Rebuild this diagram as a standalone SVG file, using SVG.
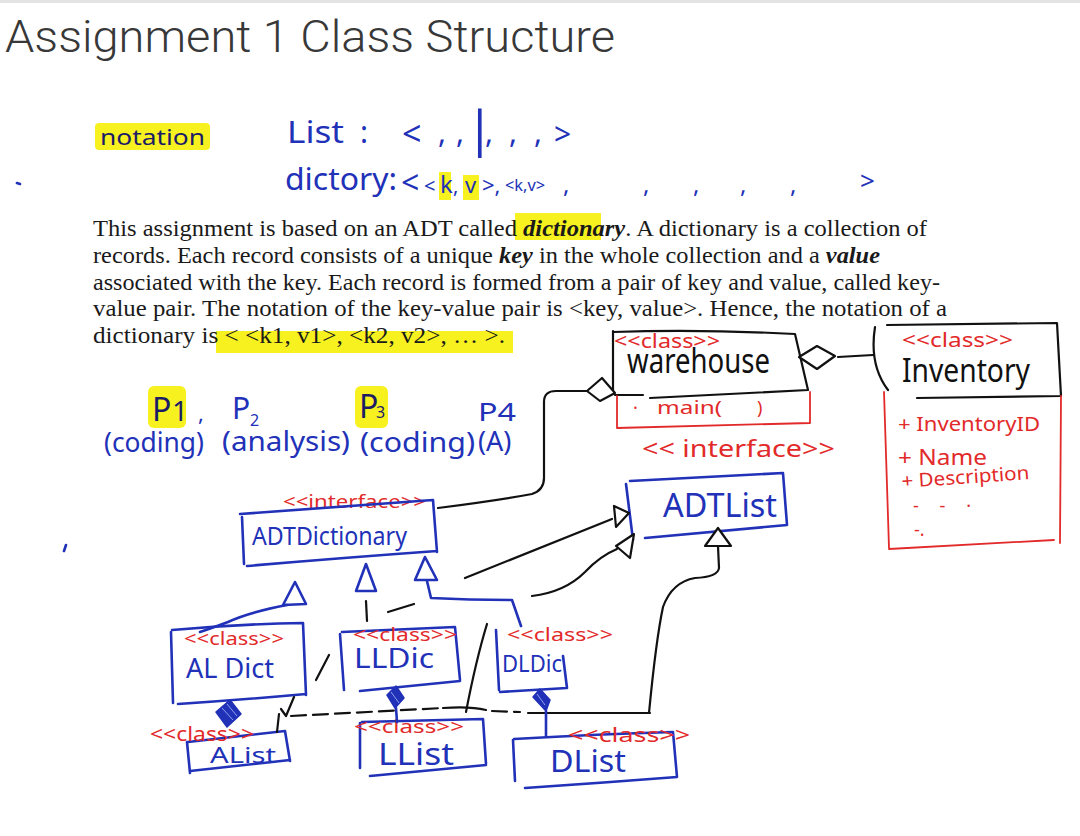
<svg xmlns="http://www.w3.org/2000/svg" width="1080" height="836" viewBox="0 0 1080 836">
<style>
.hw{font-family:"Noto Sans","DejaVu Sans",sans-serif}
.tb{fill:#2131b8}
.tn{fill:#1c1c66}
.tr{fill:#e22a2a}
.tk{fill:#111}
.hl{fill:#f7f21f}
.sb{stroke:#2131b8;fill:none;stroke-width:2.6;stroke-linecap:round;stroke-linejoin:round}
.sk{stroke:#111;fill:none;stroke-width:2.2;stroke-linecap:round;stroke-linejoin:round}
.sr{stroke:#e22a2a;fill:none;stroke-width:1.8;stroke-linecap:round;stroke-linejoin:round}
.tri{fill:#fff}
.comp{fill:#2131b8;stroke:#2131b8;stroke-width:1.5;stroke-linejoin:round}
.hatch{stroke:#8fa0f0;stroke-width:1}
.para{font-family:"Liberation Serif",serif;font-size:22.5px;fill:#1a1a1a}
.dash{stroke-dasharray:15 7}
</style>
<rect x="0" y="0" width="1080" height="3" fill="#e4e4e4"/>
<text x="5" y="52" font-family="'Roboto Light', Roboto, sans-serif" font-weight="300" font-size="44" fill="#383838" textLength="610" lengthAdjust="spacingAndGlyphs">Assignment 1 Class Structure</text>

<g id="notation">
<rect class="hl" x="95" y="123" width="115" height="27" rx="4"/>
<text class="hw tn" x="100" y="145" font-size="22" textLength="105" lengthAdjust="spacingAndGlyphs">notation</text>
<g class="hw tb" font-size="30">
<text x="287" y="143" textLength="57" lengthAdjust="spacingAndGlyphs">List</text>
<text x="360" y="143">:</text>
<text x="402" y="146" font-size="34">&lt;</text>
<text x="438" y="143">,</text>
<text x="456" y="143">,</text>
<text x="466" y="146" font-size="50">|</text>
<text x="485" y="143">,</text>
<text x="509" y="143">,</text>
<text x="534" y="143">,</text>
<text x="554" y="145">&gt;</text>
</g>
<rect class="hl" x="439" y="172" width="12" height="28"/>
<rect class="hl" x="463" y="175" width="16" height="25"/>
<g class="hw tb" font-size="30">
<text x="285" y="190" textLength="112" lengthAdjust="spacingAndGlyphs">dictory:</text>
<text x="401" y="194" font-size="32">&lt;</text>
<text x="424" y="193" font-size="20">&lt;</text>
<text x="440" y="193" font-size="24">k</text>
<text x="453" y="193" font-size="20">,</text>
<text x="465" y="193" font-size="22">v</text>
<text x="482" y="193" font-size="22">&gt;,</text>
<text x="505" y="191" font-size="16" textLength="40" lengthAdjust="spacingAndGlyphs">&lt;k,v&gt;</text>
<text x="563" y="193" font-size="24">,</text>
<text x="643" y="193" font-size="24">,</text>
<text x="693" y="193" font-size="24">,</text>
<text x="740" y="193" font-size="24">,</text>
<text x="790" y="193" font-size="24">,</text>
<text x="860" y="190" font-size="26">&gt;</text>
</g>
</g>

<g id="paragraph">
<rect class="hl" x="515" y="213" width="86" height="27"/>
<rect class="hl" x="216" y="331" width="297" height="22"/>
<text class="para" x="93" y="236" textLength="834" lengthAdjust="spacingAndGlyphs">This assignment is based on an ADT called <tspan font-weight="bold" font-style="italic">dictionary</tspan>. A dictionary is a collection of</text>
<text class="para" x="93" y="263" textLength="787" lengthAdjust="spacingAndGlyphs">records. Each record consists of a unique <tspan font-weight="bold" font-style="italic">key</tspan> in the whole collection and a <tspan font-weight="bold" font-style="italic">value</tspan></text>
<text class="para" x="93" y="290" textLength="847" lengthAdjust="spacingAndGlyphs">associated with the key. Each record is formed from a pair of key and value, called key-</text>
<text class="para" x="93" y="316" textLength="854" lengthAdjust="spacingAndGlyphs">value pair. The notation of the key-value pair is &lt;key, value&gt;. Hence, the notation of a</text>
<text class="para" x="93" y="343" textLength="412" lengthAdjust="spacingAndGlyphs">dictionary is &lt; &lt;k1, v1&gt;, &lt;k2, v2&gt;, … &gt;.</text>
</g>

<g id="phases" class="hw">
<rect class="hl" x="148" y="386" width="38" height="42" rx="6"/>
<rect class="hl" x="355" y="386" width="33" height="42" rx="6"/>
<text class="tn" x="152" y="421" font-size="32">P</text>
<text class="tn" x="172" y="421" font-size="28">1</text>
<text class="tb" x="198" y="421" font-size="22">,</text>
<text class="tb" x="232" y="419" font-size="30">P</text>
<text class="tb" x="250" y="426" font-size="16">2</text>
<text class="tn" x="359" y="418" font-size="32">P</text>
<text class="tn" x="376" y="418" font-size="16">3</text>
<text class="tb" x="478" y="421" font-size="26" textLength="38" lengthAdjust="spacingAndGlyphs">P4</text>
<text class="tb" x="104" y="452" font-size="27" textLength="100" lengthAdjust="spacingAndGlyphs">(coding)</text>
<text class="tb" x="222" y="451" font-size="27" textLength="128" lengthAdjust="spacingAndGlyphs">(analysis)</text>
<text class="tb" x="360" y="452" font-size="27" textLength="115" lengthAdjust="spacingAndGlyphs">(coding)</text>
<text class="tb" x="478" y="451" font-size="27">(A)</text>
</g>

<g id="warehouse">
<path class="sk" d="M613,331 L613,394 M613,332 Q700,329 795,334 L808,390 M615,395 L643,395 M650,398 L808,390"/>
<path class="sr" d="M617,396 L617,428 L810,423 L810,392"/>
<text class="hw tr" x="614" y="348" font-size="19" textLength="106" lengthAdjust="spacingAndGlyphs">&lt;&lt;class&gt;&gt;</text>
<text class="hw tk" x="627" y="373" font-size="34" textLength="143" lengthAdjust="spacingAndGlyphs">warehouse</text>
<text class="hw tr" x="633" y="414" font-size="18">·</text>
<text class="hw tr" x="657" y="414" font-size="18" textLength="65" lengthAdjust="spacingAndGlyphs">main(</text>
<text class="hw tr" x="757" y="414" font-size="18">)</text>
</g>

<g id="inventory">
<path class="sk" d="M875,327 Q869,365 888,390 M887,325 L1057,323 L1061,396 M917,398 L1061,396"/>
<path class="sr" d="M884,392 L889,548 M889,549 L1054,540 M1061,396 L1060,543"/>
<text class="hw tr" x="902" y="347" font-size="20" textLength="111" lengthAdjust="spacingAndGlyphs">&lt;&lt;class&gt;&gt;</text>
<text class="hw tk" x="902" y="382" font-size="33" textLength="128" lengthAdjust="spacingAndGlyphs">Inventory</text>
<text class="hw tr" x="898" y="431" font-size="19" textLength="142" lengthAdjust="spacingAndGlyphs">+ InventoryID</text>
<text class="hw tr" x="898" y="465" font-size="22" textLength="89" lengthAdjust="spacingAndGlyphs">+ Name</text>
<text class="hw tr" x="902" y="488" font-size="19" textLength="128" lengthAdjust="spacingAndGlyphs" transform="rotate(-4 902 488)">+ Description</text>
<text class="hw tr" x="913" y="512" font-size="18" textLength="58" lengthAdjust="spacing">- -  ·</text>
<text class="hw tr" x="914" y="536" font-size="18">-.</text>
</g>

<g id="adtlist">
<text class="hw tr" x="642" y="457" font-size="24" textLength="193" lengthAdjust="spacingAndGlyphs">&lt;&lt; interface&gt;&gt;</text>
<path class="sb" d="M630,481 L783,473 L787,525 M626,484 L633,540 M645,538 L787,525"/>
<text class="hw tb" x="663" y="517" font-size="32" textLength="114" lengthAdjust="spacingAndGlyphs">ADTList</text>
</g>

<g id="adtdictionary">
<text class="hw tr" x="283" y="508" font-size="18" textLength="143" lengthAdjust="spacingAndGlyphs">&lt;&lt;interface&gt;&gt;</text>
<path class="sb" d="M240,514 L433,500 L437,552 M242,517 L244,564 M247,566 Q340,558 437,551"/>
<text class="hw tb" x="252" y="545" font-size="26" textLength="155" lengthAdjust="spacingAndGlyphs">ADTDictionary</text>
</g>

<g id="aldict">
<path class="sb" d="M171,632 L173,703 M172,630 Q240,624 303,623 L306,695 M178,704 Q240,700 306,694"/>
<text class="hw tr" x="184" y="645" font-size="18" textLength="100" lengthAdjust="spacingAndGlyphs">&lt;&lt;class&gt;&gt;</text>
<text class="hw tb" x="186" y="678" font-size="28" textLength="88" lengthAdjust="spacingAndGlyphs">AL Dict</text>
</g>

<g id="lldic">
<path class="sb" d="M340,634 L344,690 M342,632 L455,627 L460,680 M360,691 L460,681"/>
<text class="hw tr" x="353" y="641" font-size="18" textLength="104" lengthAdjust="spacingAndGlyphs">&lt;&lt;class&gt;&gt;</text>
<text class="hw tb" x="354" y="668" font-size="28" textLength="80" lengthAdjust="spacingAndGlyphs">LLDic</text>
</g>

<g id="dldic">
<path class="sb" d="M496,630 L499,690 M563,656 L567,688 M500,692 L567,688"/>
<text class="hw tr" x="507" y="641" font-size="18" textLength="106" lengthAdjust="spacingAndGlyphs">&lt;&lt;class&gt;&gt;</text>
<text class="hw tb" x="502" y="672" font-size="24" textLength="60" lengthAdjust="spacingAndGlyphs">DLDic</text>
</g>

<g id="alist">
<path class="sb" d="M187,742 L190,773 M188,742 Q240,736 285,731 L290,761 M190,771 L290,760"/>
<text class="hw tb" x="210" y="763" font-size="22" textLength="66" lengthAdjust="spacingAndGlyphs">AList</text>
<text class="hw tr" x="150" y="741" font-size="19" textLength="104" lengthAdjust="spacingAndGlyphs">&lt;&lt;class&gt;&gt;</text>
</g>

<g id="llist">
<path class="sb" d="M360,723 L360,768 M362,722 L483,719 L486,764 M370,776 L486,765"/>
<text class="hw tr" x="354" y="733" font-size="18" textLength="110" lengthAdjust="spacingAndGlyphs">&lt;&lt;class&gt;&gt;</text>
<text class="hw tb" x="378" y="765" font-size="30" textLength="76" lengthAdjust="spacingAndGlyphs">LList</text>
</g>

<g id="dlist">
<path class="sb" d="M513,740 L515,781 M514,739 Q600,734 673,732 L677,777 M525,788 Q600,783 677,777"/>
<text class="hw tr" x="568" y="742" font-size="20" textLength="122" lengthAdjust="spacingAndGlyphs">&lt;&lt;class&gt;&gt;</text>
<text class="hw tb" x="550" y="772" font-size="30" textLength="76" lengthAdjust="spacingAndGlyphs">DList</text>
</g>

<g id="connectors">
<path class="sk" d="M438,508 Q500,500 532,494 Q544,490 544,478 L544,402 Q544,391 556,391 L587,391"/>
<polygon class="sk tri" points="587,391 602,378 615,393 600,401"/>
<polygon class="sk tri" points="799,357 817,346 835,356 817,369"/>
<path class="sk" d="M838,357 L873,355"/>
<path class="sk" d="M465,578 L612,519"/>
<polygon class="sk tri" points="614,506 616,527 629,513"/>
<path class="sk" d="M532,596 Q565,592 585,572 Q600,556 617,549"/>
<polygon class="sk tri" points="616,546 630,558 634,534"/>
<polygon class="sk tri" points="718,528 705,546 731,546"/>
<path class="sk" d="M718,546 L719,568 Q718,577 695,578 Q672,582 663,607 Q656,640 649,713"/>
<polygon class="sb tri" points="295,582 283,605 306,604"/>
<path class="sb" d="M287,605 Q250,612 228,622 Q212,628 200,632"/>
<polygon class="sb tri" points="366,564 356,591 376,591"/>
<path class="sk" d="M366,601 L367,621"/>
<path class="sk" d="M388,612 L414,604"/>
<polygon class="sb tri" points="425,557 415,580 437,580"/>
<path class="sb" d="M427,581 L431,598 Q470,600 512,600 L521,626"/>
<path class="sk" d="M316,680 L329,655"/>
<path class="sk" d="M487,624 Q476,660 466,712"/>
<path class="sk dash" d="M291,716 L443,708"/>
<path class="sk" d="M443,708 Q470,706 486,710"/>
<path class="sk dash" d="M492,711 L520,712"/>
<path class="sk" d="M528,713 L650,713"/>
<path class="sk" d="M294,697 L286,716 L281,709 M279,714 L277,732"/>
<polygon class="comp" points="216,712 230,700 241,714 227,727"/>
<path class="hatch" d="M222,708 L233,720 M227,704 L237,716"/>
<polygon class="comp" points="387,695 396,686 404,698 395,708"/>
<path class="hatch" d="M391,692 L399,703"/>
<path class="sb" d="M396,708 L397,722"/>
<polygon class="comp" points="533,697 540,689 550,700 546,711"/>
<path class="hatch" d="M537,694 L545,705"/>
<path class="sb" d="M546,711 L546,736"/>
</g>

<g id="marks">
<path class="sb" d="M17,183 L20,184 M66,545 L64,551"/>
</g>
</svg>
